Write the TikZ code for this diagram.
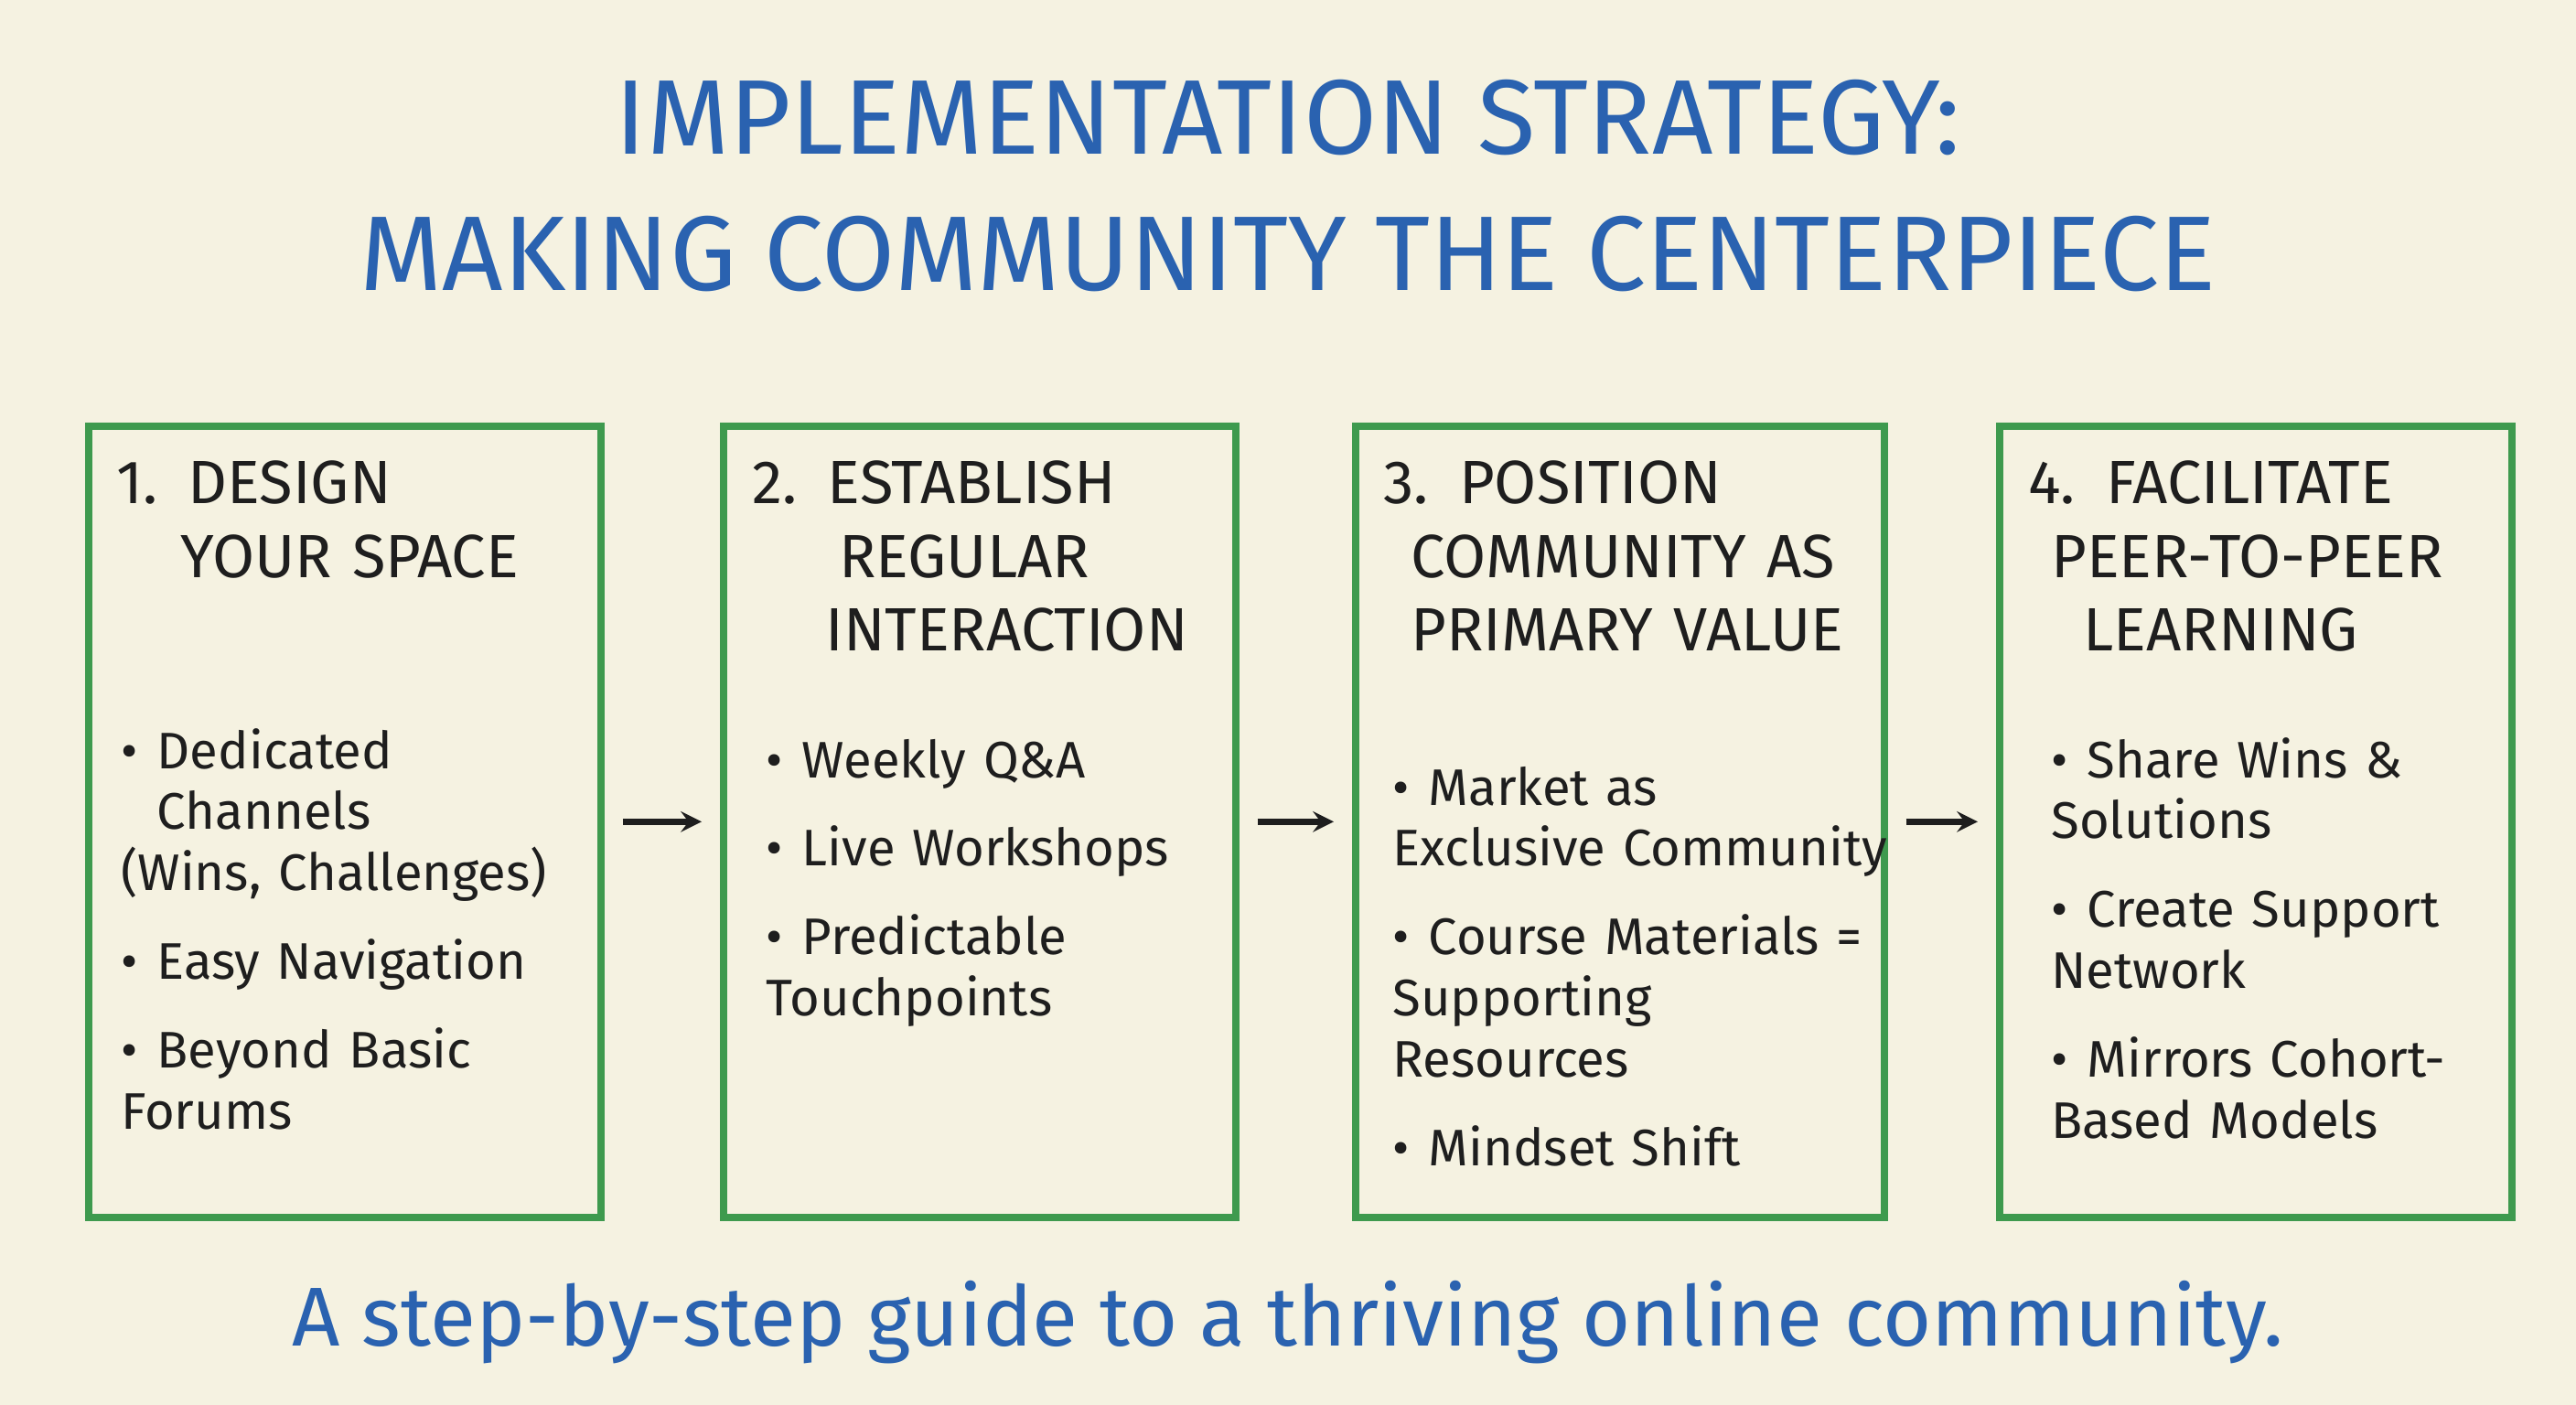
\documentclass[tikz,border=0pt]{standalone}
\usepackage{fontspec}
\setmainfont{Fira Sans}
\usetikzlibrary{positioning}
\definecolor{titleblue}{HTML}{2A62B0}
\definecolor{boxgreen}{HTML}{3E9A4E}
\definecolor{paper}{HTML}{F5F2E1}
\definecolor{ink}{HTML}{1E1E1E}
\newcommand{\nohy}{\hyphenpenalty=10000\exhyphenpenalty=10000\relax}
\newcommand{\itm}[1]{\par\hangindent=0.7em\hangafter=1\noindent\makebox[0.7em][l]{\textbullet}#1\par\vspace{0.3cm}}
\tikzset{
  stepbox/.style={draw=boxgreen, line width=2.2pt, minimum width=5.6cm, minimum height=8.65cm, anchor=north west},
  head/.style={anchor=north west, text width=5.3cm, align=left, font=\fontsize{19}{23}\selectfont\nohy, text=ink},
  items/.style={anchor=north west, text width=5.3cm, align=left, font=\fontsize{16}{19}\selectfont\nohy, text=ink},
  flow/.style={->, line width=1.8pt, >=stealth, ink, shorten <=0.2cm, shorten >=0.2cm}
}
\begin{document}
\begin{tikzpicture}
  \fill[paper] (0,0) rectangle (28.16,15.36);
  \useasboundingbox (0,0) rectangle (28.16,15.36);
  % title
  \node(t1) at (14.08,14.07) [text=titleblue, font=\fontsize{33}{38}\selectfont] {IMPLEMENTATION STRATEGY:};
  \node(t2) at (14.08,12.58) [text=titleblue, font=\fontsize{33}{38}\selectfont] {MAKING COMMUNITY THE CENTERPIECE};
  % boxes
  \node(b1) at (0.93,10.74) [stepbox] {};
  \node(b2) at (7.87,10.74) [stepbox] {};
  \node(b3) at (14.78,10.74) [stepbox, minimum width=5.78cm] {};
  \node(b4) at (21.82,10.74) [stepbox] {};
  \draw [flow] (b1) -- (b2);
  \draw [flow] (b2) -- (b3);
  \draw [flow] (b3) -- (b4);
  % headings
  \node(h1) at (1.15,10.45) [head] {1. DESIGN\\ \hspace*{0.7cm}YOUR SPACE};
  \node(h2) at (8.1,10.45) [head] {2. ESTABLISH\\ \hspace*{0.95cm}REGULAR\\ \hspace*{0.8cm}INTERACTION};
  \node(h3) at (15.0,10.45) [head, text width=5.5cm] {3. POSITION\\ \hspace*{0.3cm}COMMUNITY AS\\ \hspace*{0.3cm}PRIMARY VALUE};
  \node(h4) at (22.05,10.45) [head] {4. FACILITATE\\ \hspace*{0.25cm}PEER-TO-PEER\\ \hspace*{0.6cm}LEARNING};
  % bullets
  \node(i1) at (1.2,7.75) [items] {\itm{Dedicated Channels\\(Wins, Challenges)}\itm{Easy Navigation}\itm{Beyond Basic\\Forums}};
  \node(i2) at (8.25,7.65) [items] {\itm{Weekly Q\&A}\itm{Live Workshops}\itm{Predictable\\Touchpoints}};
  \node(i3) at (15.1,7.35) [items, text width=5.5cm] {\itm{Market as\\Exclusive Community}\itm{Course Materials =\\Supporting Resources}\itm{Mindset Shift}};
  \node(i4) at (22.3,7.65) [items] {\itm{Share Wins \&\\Solutions}\itm{Create Support\\Network}\itm{Mirrors Cohort-\\Based Models}};
  % subtitle
  \node(sub) at (14.08,0.9) [text=titleblue, font=\fontsize{26}{30}\selectfont] {A step-by-step guide to a thriving online community.};
\end{tikzpicture}
\end{document}
